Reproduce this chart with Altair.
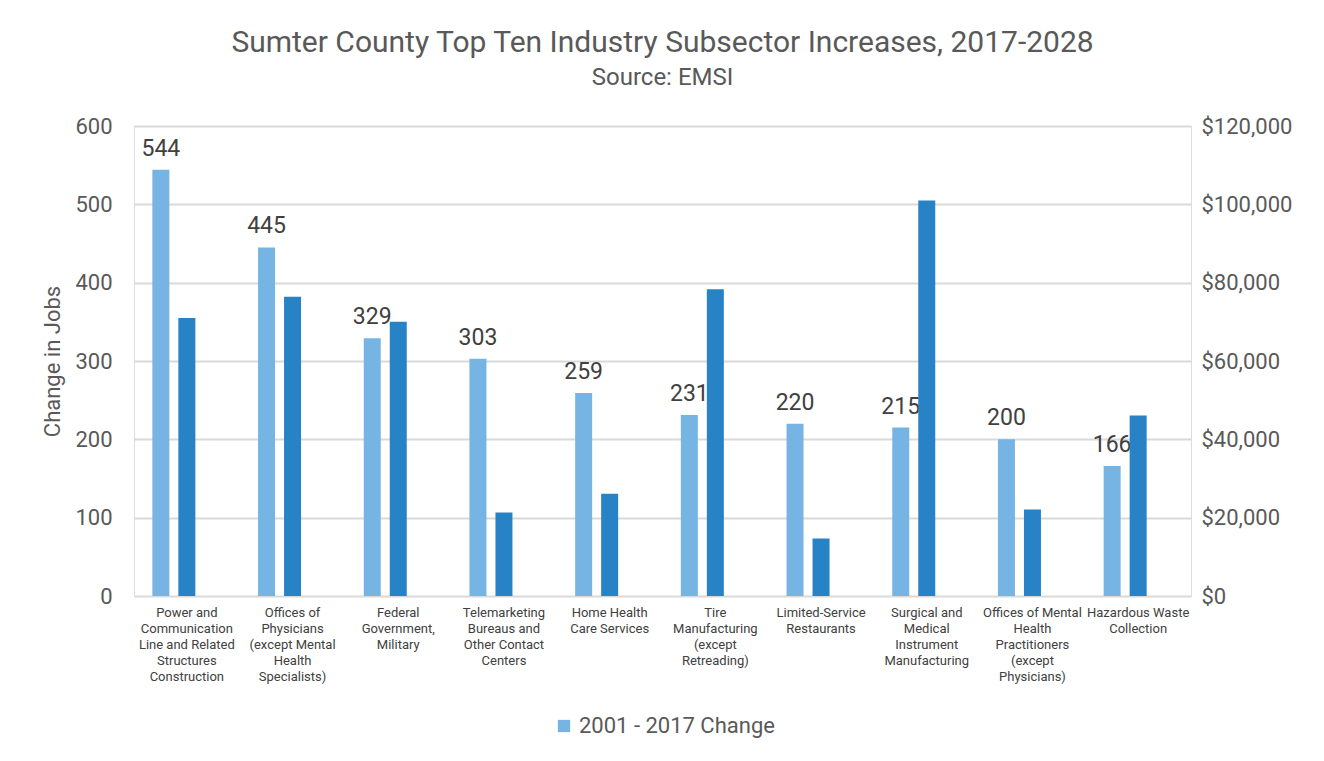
import altair as alt
import pandas as pd

categories = [
    "Power and\nCommunication\nLine and Related\nStructures\nConstruction",
    "Offices of\nPhysicians\n(except Mental\nHealth\nSpecialists)",
    "Federal\nGovernment,\nMilitary",
    "Telemarketing\nBureaus and\nOther Contact\nCenters",
    "Home Health\nCare Services",
    "Tire\nManufacturing\n(except\nRetreading)",
    "Limited-Service\nRestaurants",
    "Surgical and\nMedical\nInstrument\nManufacturing",
    "Offices of Mental\nHealth\nPractitioners\n(except\nPhysicians)",
    "Hazardous Waste\nCollection",
]
job_change = [544, 445, 329, 303, 259, 231, 220, 215, 200, 166]
earnings = [71000, 76400, 70000, 21300, 26100, 78300, 14700, 101000, 22100, 46100]

series_name = "2001 - 2017 Change"
LIGHT = "#76B5E3"
DARK = "#2882C6"
TXT = "#595959"
FONT = "Roboto"

df = pd.DataFrame({
    "cat": categories,
    "jobs": job_change,
    "earn": earnings,
    "series": [series_name] * len(categories),
})

x_enc = alt.X(
    "cat:N",
    sort=categories,
    title=None,
    scale=alt.Scale(paddingInner=0, paddingOuter=0),
    axis=alt.Axis(
        labelAngle=0,
        labelExpr="split(datum.label, '\\n')",
        labelFontSize=13,
        labelColor="#404040",
        labelPadding=10,
        labelLimit=200,
        labelLineHeight=16,
        labelBaseline="top",
        ticks=False,
        domain=False,
        grid=False,
    ),
)

light = alt.Chart(df).mark_bar(width=17, xOffset=-26).encode(
    x=x_enc,
    y=alt.Y(
        "jobs:Q",
        title="Change in Jobs",
        scale=alt.Scale(domain=[0, 600], nice=False),
        axis=alt.Axis(
            values=[0, 100, 200, 300, 400, 500, 600],
            labelFontSize=22,
            labelColor=TXT,
            labelPadding=22,
            titleFontSize=22,
            titleFontWeight="normal",
            titleColor=TXT,
            titlePadding=10,
            ticks=False,
            domain=False,
            grid=True,
            gridColor="#D9D9D9",
            gridWidth=2,
        ),
    ),
    color=alt.Color(
        "series:N",
        scale=alt.Scale(domain=[series_name], range=[LIGHT]),
        legend=alt.Legend(
            title=None,
            orient="none",
            legendX=419,
            legendY=589,
            direction="horizontal",
            symbolType="square",
            symbolSize=150,
            symbolStrokeWidth=0,
            labelFontSize=22,
            labelLimit=400,
            labelColor=TXT,
            labelFont=FONT,
        ),
    ),
)

labels = alt.Chart(df).mark_text(
    xOffset=-26, dy=-9, baseline="bottom", fontSize=23, color="#404040", font=FONT
).encode(
    x=alt.X("cat:N", sort=categories),
    y=alt.Y("jobs:Q"),
    text=alt.Text("jobs:Q"),
)

left = alt.layer(light, labels)

dark = alt.Chart(df).mark_bar(width=17, color=DARK).encode(
    x=alt.X("cat:N", sort=categories),
    y=alt.Y(
        "earn:Q",
        title=None,
        scale=alt.Scale(domain=[0, 120000], nice=False),
        axis=alt.Axis(
            orient="right",
            values=[0, 20000, 40000, 60000, 80000, 100000, 120000],
            format="$,.0f",
            labelFontSize=22,
            labelColor=TXT,
            labelPadding=10,
            ticks=False,
            domain=False,
            grid=False,
        ),
    ),
)

chart = alt.layer(left, dark).resolve_scale(y="independent").properties(
    width=1057,
    height=470,
    padding={"left": 33, "top": 20, "right": 5, "bottom": 5},
    title=alt.TitleParams(
        "Sumter County Top Ten Industry Subsector Increases, 2017-2028",
        subtitle="Source: EMSI",
        fontSize=30,
        fontWeight="normal",
        subtitleFontSize=24,
        color=TXT,
        subtitleColor=TXT,
        font=FONT,
        subtitleFont=FONT,
        anchor="middle",
        frame="group",
        offset=25,
        subtitlePadding=8,
    ),
).configure_view(stroke=None).configure(font=FONT).configure_axis(
    labelFont=FONT, titleFont=FONT
)

chart.save("out.html", embed_options={"renderer": "svg", "actions": False})
